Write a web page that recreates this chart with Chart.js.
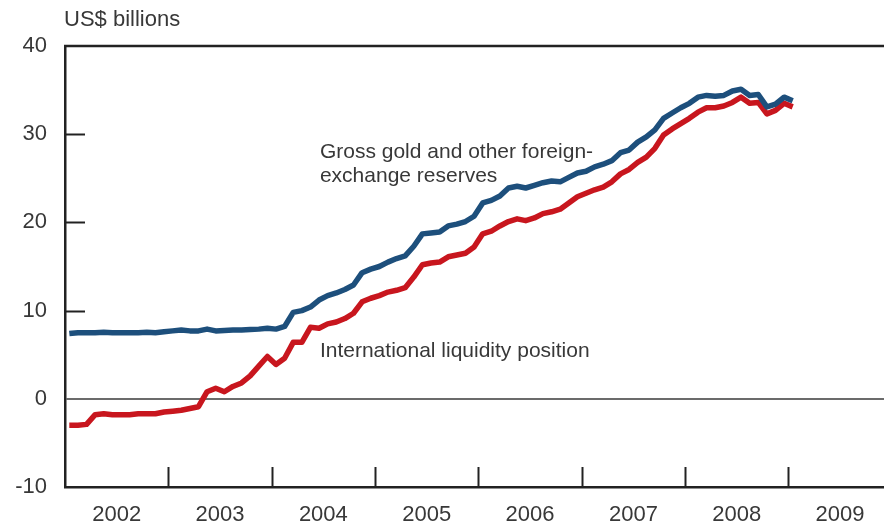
<!DOCTYPE html>
<html lang="en">
<head>
    <meta charset="UTF-8">
    <title>Gross reserves and international liquidity position</title>
    <script src="https://cdn.jsdelivr.net/npm/chart.js"></script>
    <style>
        html, body { margin: 0; padding: 0; background: #fff; }
        #wrap { width: 884px; height: 524px; }
    </style>
</head>
<body>
    <div id="wrap"><canvas id="chart"></canvas></div>

    <script>
        // monthly, Jan 2002 - Jan 2009
        const years = ["2002", "2003", "2004", "2005", "2006", "2007", "2008", "2009"];
        const yTicks = [-10, 0, 10, 20, 30, 40];

        const grossReserves = [
            7.4, 7.5, 7.5, 7.5, 7.55, 7.5, 7.5, 7.5, 7.5, 7.55, 7.5, 7.6,
            7.7, 7.8, 7.7, 7.7, 7.9, 7.7, 7.75, 7.8, 7.8, 7.85, 7.9, 8.0,
            7.9, 8.2, 9.8, 10.0, 10.4, 11.2, 11.7, 12.0, 12.4, 12.9, 14.3, 14.7,
            15.0, 15.5, 15.9, 16.2, 17.3, 18.7, 18.8, 18.9, 19.6, 19.8, 20.1, 20.7,
            22.2, 22.5, 23.0, 23.9, 24.1, 23.9, 24.2, 24.5, 24.7, 24.6, 25.1, 25.6,
            25.8, 26.3, 26.6, 27.0, 27.9, 28.2, 29.1, 29.7, 30.5, 31.8, 32.4, 33.0,
            33.5, 34.2, 34.4, 34.3, 34.4, 34.9, 35.1, 34.4, 34.5, 33.1, 33.4, 34.2,
            33.8
        ];
        const liquidityPosition = [
            -3.0, -3.0, -2.9, -1.8, -1.7, -1.8, -1.8, -1.8, -1.7, -1.7, -1.7, -1.5,
            -1.4, -1.3, -1.1, -0.9, 0.8, 1.2, 0.8, 1.4, 1.8, 2.6, 3.7, 4.8,
            3.9, 4.6, 6.4, 6.4, 8.1, 8.0, 8.5, 8.7, 9.1, 9.7, 11.0, 11.4,
            11.7, 12.1, 12.3, 12.6, 13.8, 15.2, 15.4, 15.5, 16.1, 16.3, 16.5, 17.2,
            18.7, 19.0, 19.6, 20.1, 20.4, 20.2, 20.5, 21.0, 21.2, 21.5, 22.2, 22.9,
            23.3, 23.7, 24.0, 24.6, 25.5, 26.0, 26.8, 27.4, 28.4, 29.9, 30.6, 31.2,
            31.8, 32.5, 33.0, 33.0, 33.2, 33.6, 34.2, 33.5, 33.6, 32.3, 32.7, 33.5,
            33.1
        ];

        const blue = "#1d4f7c";
        const red = "#c8161e";
        const textColor = "#383838";
        const fontFamily = "'Liberation Sans', Arial, sans-serif";
        const tickFont = { family: fontFamily, size: 22 };

        // points sit mid-month on a month axis (0 = start of Jan 2002)
        function toPoints(values) {
            return values.map((v, i) => ({ x: i + 0.5, y: v }));
        }

        const decorations = {
            id: "decorations",
            afterDraw(chart) {
                const ctx = chart.ctx;
                const area = chart.chartArea;
                const xs = chart.scales.x;
                const ys = chart.scales.y;
                ctx.save();

                // top frame line
                ctx.strokeStyle = "#222";
                ctx.lineWidth = 2.5;
                ctx.beginPath();
                ctx.moveTo(area.left - 1, area.top);
                ctx.lineTo(area.right, area.top);
                ctx.stroke();

                // inner ticks on the x axis at year boundaries
                ctx.lineWidth = 2;
                for (let k = 1; k < years.length; k++) {
                    const px = Math.round(xs.getPixelForValue(k * 12)) + 0.5;
                    ctx.beginPath();
                    ctx.moveTo(px, area.bottom);
                    ctx.lineTo(px, area.bottom - 20);
                    ctx.stroke();
                }
                // inner ticks on the y axis
                [10, 20, 30].forEach(v => {
                    const py = Math.round(ys.getPixelForValue(v)) + 0.5;
                    ctx.beginPath();
                    ctx.moveTo(area.left, py);
                    ctx.lineTo(area.left + 20, py);
                    ctx.stroke();
                });

                ctx.fillStyle = textColor;
                ctx.textBaseline = "middle";

                // year labels centred in each year
                ctx.font = "22px " + fontFamily;
                ctx.textAlign = "center";
                years.forEach((y, k) => {
                    ctx.fillText(y, xs.getPixelForValue(k * 12 + 6), area.bottom + 28);
                });

                // unit label
                ctx.textAlign = "left";
                ctx.fillText("US$ billions", area.left - 1, 20);

                // series labels
                ctx.font = "21px " + fontFamily;
                const lx = xs.getPixelForValue(29.6);
                ctx.fillText("Gross gold and other foreign-", lx, ys.getPixelForValue(28.0));
                ctx.fillText("exchange reserves", lx, ys.getPixelForValue(25.25));
                ctx.fillText("International liquidity position", lx, ys.getPixelForValue(5.4));

                ctx.restore();
            }
        };

        new Chart(document.getElementById("chart"), {
            type: "line",
            data: {
                datasets: [
                    {
                        label: "Gross gold and other foreign-exchange reserves",
                        data: toPoints(grossReserves),
                        borderColor: blue,
                        borderWidth: 5.5,
                        pointRadius: 0,
                        tension: 0,
                        borderJoinStyle: "round"
                    },
                    {
                        label: "International liquidity position",
                        data: toPoints(liquidityPosition),
                        borderColor: red,
                        borderWidth: 5.5,
                        pointRadius: 0,
                        tension: 0,
                        borderJoinStyle: "round"
                    }
                ]
            },
            options: {
                responsive: true,
                maintainAspectRatio: false,
                animation: false,
                layout: { padding: { top: 46, right: 0, left: 0, bottom: 0 } },
                plugins: { legend: { display: false }, tooltip: { enabled: false } },
                scales: {
                    x: {
                        type: "linear",
                        min: 0,
                        max: 95.1,
                        ticks: { display: false },
                        grid: { display: false },
                        border: { display: true, color: "#222", width: 2.5 },
                        afterFit(scale) { scale.height = 37; }
                    },
                    y: {
                        min: -10,
                        max: 40,
                        afterBuildTicks(scale) { scale.ticks = yTicks.map(v => ({ value: v })); },
                        ticks: { color: textColor, font: tickFont, padding: 18 },
                        grid: {
                            drawTicks: false,
                            color: c => (c.tick && c.tick.value === 0 ? "#6b6b6b" : "rgba(0,0,0,0)"),
                            lineWidth: 2
                        },
                        border: { display: true, color: "#222", width: 2.5 },
                        afterFit(scale) { scale.width = 65; }
                    }
                }
            },
            plugins: [decorations]
        });
    </script>
</body>
</html>
